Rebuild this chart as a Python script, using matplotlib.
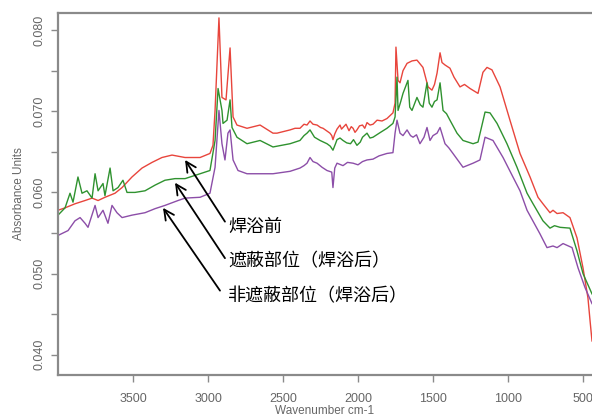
import matplotlib.pyplot as plt
from matplotlib.ticker import MultipleLocator, FixedLocator

plt.rcParams['font.family'] = ['Liberation Sans', 'DejaVu Sans']

# spectra: wavenumber (cm-1) / absorbance
wn_red = [4000, 3953, 3887, 3820, 3773, 3733, 3687, 3620, 3573, 3507, 3440, 3373, 3307,
          3240, 3153, 3053, 2987, 2967, 2953, 2927, 2907, 2880, 2853, 2833, 2807, 2740,
          2653, 2567, 2540, 2453, 2420, 2387, 2360, 2340, 2320, 2300, 2273, 2250, 2233,
          2210, 2187, 2175, 2167, 2155, 2140, 2120, 2110, 2100, 2080, 2060, 2045, 2033,
          2020, 2007, 1990, 1970, 1955, 1940, 1920, 1900, 1873, 1840, 1807, 1767, 1753,
          1747, 1733, 1720, 1700, 1673, 1640, 1607, 1567, 1550, 1533, 1507, 1490, 1473,
          1453, 1440, 1420, 1387, 1360, 1320, 1290, 1253, 1200, 1167, 1140, 1107, 1053,
          987, 920, 853, 800, 767, 720, 700, 673, 633, 587, 540, 500, 467, 453, 440]
ab_red = [0.0578, 0.0581, 0.0586, 0.0590, 0.0593, 0.0590, 0.0594, 0.0599, 0.0606, 0.0619,
          0.0630, 0.0637, 0.0643, 0.0646, 0.0643, 0.0643, 0.0648, 0.0658, 0.0701, 0.0815,
          0.0717, 0.0714, 0.0778, 0.0693, 0.0683, 0.0679, 0.0683, 0.0673, 0.0673, 0.0677,
          0.0679, 0.0679, 0.0684, 0.0683, 0.0688, 0.0684, 0.0683, 0.0680, 0.0679, 0.0676,
          0.0673, 0.0670, 0.0665, 0.0672, 0.0678, 0.0683, 0.0678, 0.0680, 0.0684, 0.0676,
          0.0681, 0.0679, 0.0674, 0.0677, 0.0682, 0.0683, 0.0679, 0.0686, 0.0683, 0.0684,
          0.0689, 0.0688, 0.0691, 0.0698, 0.0710, 0.0779, 0.0738, 0.0735, 0.0750, 0.0759,
          0.0762, 0.0763, 0.0754, 0.0742, 0.0730, 0.0726, 0.0733, 0.0747, 0.0772, 0.0760,
          0.0757, 0.0753, 0.0742, 0.0730, 0.0733, 0.0728, 0.0722, 0.0748, 0.0754, 0.0751,
          0.0730, 0.0689, 0.0648, 0.0619, 0.0594, 0.0586, 0.0575, 0.0578, 0.0574, 0.0575,
          0.0569, 0.0544, 0.0507, 0.0470, 0.0442, 0.0417]

wn_green = [4000, 3953, 3920, 3900, 3867, 3840, 3807, 3773, 3753, 3733, 3700, 3687, 3653,
            3633, 3600, 3567, 3540, 3487, 3420, 3353, 3287, 3220, 3153, 3053, 2987, 2953,
            2933, 2907, 2900, 2873, 2853, 2840, 2807, 2740, 2653, 2567, 2453, 2387, 2360,
            2340, 2320, 2290, 2253, 2230, 2207, 2185, 2167, 2150, 2140, 2120, 2100, 2075,
            2050, 2030, 2007, 1985, 1970, 1940, 1920, 1900, 1850, 1807, 1767, 1753, 1740,
            1733, 1715, 1700, 1667, 1655, 1640, 1607, 1585, 1567, 1540, 1525, 1507, 1490,
            1473, 1453, 1433, 1410, 1387, 1340, 1300, 1233, 1200, 1153, 1120, 1073, 1007,
            940, 873, 833, 767, 720, 690, 653, 587, 540, 500, 440]
ab_green = [0.0572, 0.0581, 0.0599, 0.0588, 0.0619, 0.0599, 0.0602, 0.0593, 0.0623, 0.0602,
            0.0611, 0.0596, 0.0630, 0.0602, 0.0606, 0.0615, 0.0600, 0.0600, 0.0602, 0.0609,
            0.0615, 0.0617, 0.0617, 0.0623, 0.0627, 0.0664, 0.0728, 0.0701, 0.0685, 0.0689,
            0.0714, 0.0680, 0.0668, 0.0660, 0.0664, 0.0656, 0.0660, 0.0664, 0.0670, 0.0673,
            0.0677, 0.0668, 0.0664, 0.0662, 0.0660, 0.0657, 0.0652, 0.0660, 0.0665, 0.0667,
            0.0664, 0.0661, 0.0660, 0.0665, 0.0658, 0.0662, 0.0668, 0.0673, 0.0667, 0.0668,
            0.0674, 0.0679, 0.0685, 0.0693, 0.0742, 0.0701, 0.0712, 0.0722, 0.0738, 0.0705,
            0.0701, 0.0717, 0.0708, 0.0705, 0.0735, 0.0710, 0.0705, 0.0712, 0.0714, 0.0735,
            0.0701, 0.0697, 0.0689, 0.0673, 0.0664, 0.0660, 0.0662, 0.0699, 0.0698, 0.0685,
            0.0660, 0.0631, 0.0599, 0.0586, 0.0565, 0.0556, 0.0559, 0.0557, 0.0556, 0.0528,
            0.0500, 0.0475]

wn_purple = [4000, 3933, 3887, 3853, 3820, 3800, 3753, 3733, 3700, 3667, 3640, 3607, 3573,
             3507, 3420, 3353, 3287, 3200, 3153, 3053, 2987, 2953, 2927, 2907, 2887, 2867,
             2853, 2833, 2800, 2740, 2607, 2567, 2453, 2387, 2360, 2340, 2320, 2300, 2273,
             2240, 2207, 2175, 2167, 2155, 2140, 2100, 2070, 2033, 2000, 1970, 1940, 1900,
             1860, 1807, 1767, 1753, 1740, 1720, 1700, 1673, 1650, 1633, 1610, 1587, 1560,
             1540, 1520, 1500, 1473, 1453, 1420, 1395, 1367, 1300, 1233, 1187, 1153, 1100,
             1033, 967, 920, 873, 787, 740, 700, 673, 633, 573, 533, 487, 440]
ab_purple = [0.0547, 0.0553, 0.0565, 0.0569, 0.0562, 0.0557, 0.0584, 0.0569, 0.0578, 0.0562,
             0.0584, 0.0575, 0.0569, 0.0572, 0.0575, 0.0580, 0.0584, 0.0590, 0.0593, 0.0594,
             0.0599, 0.0631, 0.0701, 0.0660, 0.0640, 0.0673, 0.0677, 0.0640, 0.0627, 0.0623,
             0.0623, 0.0623, 0.0626, 0.0630, 0.0633, 0.0636, 0.0643, 0.0638, 0.0636, 0.0631,
             0.0627, 0.0625, 0.0606, 0.0630, 0.0636, 0.0633, 0.0637, 0.0636, 0.0634, 0.0638,
             0.0640, 0.0641, 0.0645, 0.0648, 0.0649, 0.0673, 0.0689, 0.0673, 0.0670, 0.0677,
             0.0670, 0.0668, 0.0671, 0.0660, 0.0668, 0.0680, 0.0664, 0.0670, 0.0673, 0.0680,
             0.0660, 0.0655, 0.0648, 0.0631, 0.0636, 0.0640, 0.0668, 0.0664, 0.0643, 0.0619,
             0.0602, 0.0578, 0.0549, 0.0532, 0.0534, 0.0532, 0.0537, 0.0532, 0.0507, 0.0483,
             0.0463]

labels = ['焊浴前', '遮蔽部位（焊浴后）', '非遮蔽部位（焊浴后）']
# arrow tip, arrow tail, text anchor (data units)
tips = [(3153, 0.0640), (3220, 0.0612), (3300, 0.0581)]
tails = [(2887, 0.0564), (2887, 0.0519), (2920, 0.0479)]
text_pos = [(2867, 0.0557), (2867, 0.0515), (2867, 0.0472)]

fig = plt.figure(figsize=(5.92, 4.2), dpi=100)
ax = fig.add_axes([0.098, 0.107, 0.902, 0.862])

ax.plot(wn_red, ab_red, color='#e8453c', lw=1.0)
ax.plot(wn_green, ab_green, color='#2f922f', lw=1.0)
ax.plot(wn_purple, ab_purple, color='#8c4ea8', lw=1.0)

for lab, tip, tail, tp in zip(labels, tips, tails, text_pos):
    ax.annotate('', xy=tip, xytext=tail,
                arrowprops=dict(arrowstyle='->', color='black', lw=1.3,
                                mutation_scale=18, shrinkA=0, shrinkB=0))
    ax.text(tp[0], tp[1], lab, fontsize=13, va='center', ha='left',
            family=['Noto Sans CJK SC', 'DejaVu Sans'])

ax.set_xlim(4000, 440)
ax.set_ylim(0.0375, 0.0821)
ax.xaxis.set_major_locator(FixedLocator([3500, 3000, 2500, 2000, 1500, 1000, 500]))
ax.yaxis.set_major_locator(MultipleLocator(0.01))
ax.yaxis.set_minor_locator(FixedLocator([0.045, 0.055, 0.065, 0.075]))
ax.yaxis.set_major_formatter(plt.FormatStrFormatter('%.3f'))

grey = '#8a8a8a'
for s in ['left', 'top', 'bottom']:
    ax.spines[s].set_color(grey)
    ax.spines[s].set_linewidth(1.6)
ax.spines['right'].set_visible(False)
ax.tick_params(which='both', direction='out', length=5, width=1, color=grey,
               labelcolor='#666666', labelsize=9)
ax.tick_params(axis='x', pad=8)
ax.tick_params(axis='y', pad=4)
for t in ax.get_yticklabels():
    t.set_rotation(90)
    t.set_va('center')

ax.set_xlabel('Wavenumber cm-1', fontsize=8.5, color='#666666', labelpad=0)
ax.set_ylabel('Absorbance Units', fontsize=8.5, color='#666666', labelpad=6)

fig.savefig('out.png', dpi=100)
